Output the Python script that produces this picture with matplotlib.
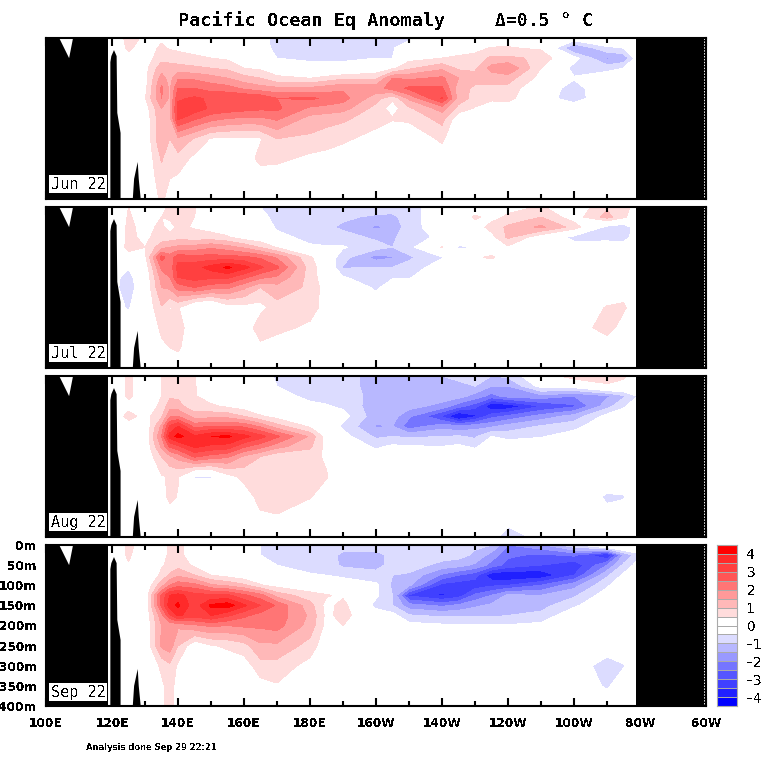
import numpy as np
import matplotlib
matplotlib.use('Agg')
import matplotlib.pyplot as plt
from matplotlib.ticker import MultipleLocator

# grid of the anomaly fields, one inner list per longitude
lons = [120, 125, 130, 135, 137.5, 140, 145, 150, 155, 160, 165, 170, 180, 185, 190,
        200, 205, 210, 220, 225, 230, 235, 240, 250, 260, 270, 275, 280]
depths = [0, 25, 50, 75, 100, 125, 150, 175, 200, 250, 300, 350, 400]

jun_22 = [
    [0, 0, 0, 0, 0, 0, 0, 0, 0, 0, 0, 0, 0],
    [.7, .6, .3, .1, .1, .1, 0, 0, 0, 0, 0, 0, 0],
    [.4, .2, .2, .3, .3, .3, .45, .2, .1, 0, 0, 0, 0],
    [.4, .6, .8, 1.3, 1.7, 2.1, 2.0, 1.5, 1.4, 1.5, 1.05, .8, .6],
    [.3, .45, .8, 1.2, 1.3, 1.4, 1.4, 1.4, 1.3, 1.0, .7, .5, .3],
    [.2, .4, .7, 1.2, 1.9, 2.5, 2.9, 3.2, 3.1, 1.4, .8, .4, .2],
    [.2, .3, .6, 1.1, 1.9, 2.5, 3.1, 3.3, 2.6, .95, .35, .1, 0],
    [.1, .2, .5, 1.0, 1.7, 2.3, 2.9, 2.9, 2.2, .45, .1, 0, 0],
    [0, .1, .4, .9, 1.5, 2.2, 3.0, 2.8, 2.0, .4, .1, 0, 0],
    [0, 0, .2, .5, 1.2, 1.9, 3.0, 2.7, 1.9, .4, .1, 0, 0],
    [-.3, -.2, .1, .4, 1.0, 1.7, 2.9, 2.6, 1.9, .45, .7, .1, 0],
    [-.7, -.7, -.5, .2, .6, 1.6, 2.5, 2.6, 2.1, 1.0, .65, .1, 0],
    [-.7, -.7, -.6, -.3, .5, 1.6, 2.6, 1.9, 1.3, .9, .35, 0, 0],
    [-.7, -.7, -.6, -.3, .7, 1.75, 2.4, 1.8, 1.2, .75, .3, 0, 0],
    [-.7, -.7, -.6, -.3, .9, 1.9, 2.2, 1.7, 1.1, .6, .2, 0, 0],
    [-.6, -.6, -.5, .1, .9, 1.8, 1.2, .8, .7, .3, 0, 0, 0],
    [-.5, -.55, -.5, .4, 2.0, 2.2, .6, .25, .55, .1, 0, 0, 0],
    [-.6, -.2, .3, .9, 1.9, 2.6, 1.6, .9, .6, .1, 0, 0, 0],
    [0, .1, .5, 1.4, 2.1, 2.6, 3.05, 1.7, 1.2, .6, .2, 0, 0],
    [0, .2, .6, .9, 1.5, 1.2, 1.3, .8, .1, 0, 0, 0, 0],
    [0, .3, .7, .9, 1.2, .9, .8, .45, .1, 0, 0, 0, 0],
    [0, .55, 1.1, 1.7, 1.2, .9, .6, .2, 0, 0, 0, 0, 0],
    [.2, .55, 1.1, 2.0, 1.2, .85, .7, .1, 0, 0, 0, 0, 0],
    [0, .4, .9, .5, .3, -.1, -.2, 0, 0, 0, 0, 0, 0],
    [-.1, -1.6, -.3, -.7, -.45, -.75, -.8, -.1, 0, 0, 0, 0, 0],
    [0, -.6, -1.6, -.7, -.1, 0, 0, 0, 0, 0, 0, 0, 0],
    [0, -.5, -1.4, -.5, 0, 0, 0, 0, 0, 0, 0, 0, 0],
    [0, 0, 0, 0, 0, 0, 0, 0, 0, 0, 0, 0, 0],
]

jul_22 = [
    [0, 0, 0, 0, 0, 0, -.2, -.3, -.3, -.3, 0, 0, 0],
    [.5, .55, .6, .6, .65, .3, -.45, -.7, -.8, -.55, -.2, 0, 0],
    [.2, .3, .35, .4, .5, .35, .1, 0, 0, 0, 0, 0, 0],
    [.3, .5, .6, .7, 1.3, 2.7, 2.1, 1.7, 1.5, .95, .6, .4, .1],
    [.6, .6, .3, .7, 1.5, 2.2, 2.1, 2.0, 1.6, .45, .8, .5, .1],
    [.6, .6, .6, .8, 1.6, 2.8, 3.2, 3.0, 2.2, .55, .8, .6, .1],
    [.55, .5, .45, .7, 1.7, 2.7, 3.3, 3.2, 2.5, -.3, 0, 0, 0],
    [0, .1, .3, .7, 1.9, 2.7, 3.7, 3.1, 2.2, -.5, 0, 0, 0],
    [0, 0, .2, .55, 1.7, 2.7, 4.1, 3.1, 2.1, .2, 0, 0, 0],
    [0, 0, .1, .2, 1.4, 2.6, 3.7, 2.6, 1.6, .3, 0, 0, 0],
    [-.5, -.3, 0, .1, .95, 2.4, 3.1, 2.1, 1.0, .3, .9, .3, 0],
    [-.7, -.7, -.6, -.3, .45, 1.9, 2.6, 1.9, 1.3, .8, .7, .1, 0],
    [-.8, -.9, -.7, -.7, -.4, .6, .75, .8, .9, .8, .35, 0, 0],
    [-.75, -.9, -.9, -.75, -.45, -.1, .1, .1, .2, .2, .1, 0, 0],
    [-.7, -.9, -1.1, -.8, -.45, -.8, -1.05, -.45, 0, 0, 0, 0, 0],
    [-.7, -1.1, -1.6, -1.1, -.8, -1.7, -1.0, -.8, -.6, -.1, 0, 0, 0],
    [-.8, -1.1, -1.4, -1.1, -1.0, -1.55, -1.0, -.55, -.2, 0, 0, 0, 0],
    [-.8, -.8, -.7, -.7, -.7, -1.1, -.8, -.55, -.2, 0, 0, 0, 0],
    [0, 0, -.2, -.4, .55, -.55, -.2, 0, 0, 0, 0, 0, 0],
    [0, 0, 0, 0, -.6, .1, -.55, 0, 0, 0, 0, 0, 0],
    [.1, .6, .2, 0, -.5, .4, .1, -.1, 0, 0, 0, 0, 0],
    [0, .3, .7, .3, 0, .6, 0, 0, 0, 0, 0, 0, 0],
    [.3, .6, 1.1, 1.1, .4, .1, 0, 0, 0, 0, 0, 0, 0],
    [.55, 1.0, 1.6, .1, .5, 0, 0, 0, 0, 0, 0, 0, 0],
    [.1, .2, .8, -.7, -.2, 0, 0, 0, 0, 0, .1, 0, 0],
    [.9, 1.2, -.7, -.8, 0, 0, 0, 0, 0, .55, .8, 0, 0],
    [.7, .6, -.9, -.8, -.1, 0, 0, 0, .2, .6, .2, 0, 0],
    [.2, 0, 0, 0, 0, 0, 0, 0, 0, 0, 0, 0, 0],
]

aug_22 = [
    [0, 0, 0, 0, 0, 0, 0, 0, 0, 0, 0, 0, 0],
    [.6, .6, .6, .3, .7, .2, 0, 0, 0, 0, 0, 0, 0],
    [.2, .2, .2, .2, .3, 0, 0, 0, 0, 0, 0, 0, 0],
    [.5, .5, .5, .6, .9, 1.6, 2.0, 1.6, 1.0, .45, .2, 0, 0],
    [.6, .6, .9, 1.3, 1.9, 3.1, 3.7, 2.6, 1.4, .55, .7, .1, 0],
    [.6, .7, .9, 1.2, 2.0, 3.5, 4.2, 2.9, 1.7, .55, .45, .1, 0],
    [.55, .55, .55, .6, 1.3, 2.3, 3.6, 3.6, 2.6, -.55, 0, 0, 0],
    [0, 0, .2, .6, 1.3, 2.5, 4.0, 3.4, 2.3, -.55, 0, 0, 0],
    [0, 0, .1, .4, 1.3, 2.5, 4.1, 3.3, 2.1, .3, 0, 0, 0],
    [0, 0, .1, .2, 1.0, 2.4, 3.7, 2.6, 1.4, .65, .2, 0, 0],
    [-.2, 0, 0, .1, .55, 1.9, 3.2, 2.2, 1.0, .8, .7, .4, 0],
    [-.6, -.5, -.2, 0, .3, 1.2, 2.6, 1.7, .6, .7, .8, .45, 0],
    [-.8, -.8, -.7, -.3, 0, .4, 1.4, 1.1, .7, .7, .55, 0, 0],
    [-.8, -.8, -.7, -.45, -.15, -.1, .2, .3, .4, .55, .1, 0, 0],
    [-.8, -.8, -.7, -.6, -.3, -.6, -.3, 0, 0, 0, 0, 0, 0],
    [-1.2, -1.2, -1.2, -1.3, -1.3, -1.55, -1.1, -.6, -.2, 0, 0, 0, 0],
    [-1.2, -1.2, -1.2, -1.2, -1.3, -1.5, -1.0, -.4, -.1, 0, 0, 0, 0],
    [-1.2, -1.2, -1.2, -1.3, -1.9, -2.3, -1.1, -.45, 0, 0, 0, 0, 0],
    [-1.0, -1.1, -1.2, -1.7, -3.1, -1.7, -1.0, -.5, -.1, 0, 0, 0, 0],
    [-.9, -1.1, -1.3, -2.3, -4.2, -1.9, -.95, -.4, -.1, 0, 0, 0, 0],
    [-.6, -1.0, -1.7, -2.8, -3.6, -1.7, -1.1, -.6, -.1, 0, 0, 0, 0],
    [-1.0, -1.5, -2.2, -4.0, -2.7, -1.6, -.5, -.1, 0, 0, 0, 0, -.1],
    [-.9, -1.5, -1.8, -3.9, -2.4, -1.3, -.7, -.1, 0, 0, 0, 0, -1.0],
    [.1, -.3, -1.7, -3.0, -1.8, -.95, -.55, -.1, 0, 0, 0, 0, -.2],
    [.8, -.2, -2.0, -2.6, -1.3, -.7, -.2, 0, 0, 0, 0, 0, 0],
    [.8, .4, -1.6, -1.2, -.3, 0, 0, 0, 0, 0, -.6, -.3, 0],
    [.6, .3, -1.1, -.6, -.1, 0, 0, 0, 0, 0, -.55, -.2, 0],
    [.1, 0, -.4, 0, 0, 0, 0, 0, 0, 0, 0, 0, 0],
]

sep_22 = [
    [0, 0, 0, 0, 0, 0, 0, 0, 0, 0, 0, 0, 0],
    [.6, .6, .45, 0, 0, 0, 0, 0, 0, 0, 0, 0, 0],
    [.3, 0, 0, 0, 0, 0, 0, 0, 0, 0, 0, 0, 0],
    [.2, .3, .45, .6, 1.3, 2.6, 2.6, 1.8, 1.5, 1.6, .6, .4, .4],
    [.6, .6, .6, 1.1, 2.0, 3.5, 3.8, 2.9, 1.6, 1.8, .9, .7, .7],
    [.6, .6, .8, 1.4, 2.3, 3.7, 4.1, 3.6, 1.6, 1.0, .4, .3, .3],
    [.3, .3, .4, 1.0, 2.2, 3.2, 3.2, 3.2, 1.9, .1, 0, 0, 0],
    [0, 0, .1, .5, 1.6, 3.1, 4.1, 3.5, 2.1, .45, 0, 0, 0],
    [0, 0, 0, .3, 1.4, 3.1, 4.3, 3.1, 2.0, .6, .1, 0, 0],
    [0, 0, 0, .1, 1.1, 2.6, 3.6, 2.6, 2.1, .8, .2, 0, 0],
    [-.5, -.5, -.2, 0, .55, 2.2, 3.0, 2.3, 2.1, 1.4, .8, .3, 0],
    [-.6, -.6, -.5, -.2, .3, 1.3, 2.4, 2.3, 2.2, 1.4, .8, .45, 0],
    [-.7, -.7, -.7, -.45, .1, .7, 1.2, 1.4, 1.3, .8, .3, 0, 0],
    [-.75, -.8, -.75, -.5, -.05, .55, .3, .35, .3, .1, 0, 0, 0],
    [-.8, -1.1, -1.1, -.6, -.2, .4, .7, .7, .5, 0, 0, 0, 0],
    [-.7, -1.2, -1.2, -.8, -.4, -.4, -.7, -.1, 0, 0, 0, 0, 0],
    [-.7, -.8, -.8, -1.0, -1.1, -1.0, -1.0, -.3, 0, 0, 0, 0, 0],
    [-.7, -.7, -.7, -1.1, -1.4, -3.1, -1.8, -.95, -.3, 0, 0, 0, 0],
    [-.7, -.7, -1.2, -2.1, -3.2, -3.6, -2.1, -1.1, -.4, 0, 0, 0, 0],
    [-.8, -.8, -1.3, -2.5, -3.3, -3.3, -1.9, -1.1, -.45, 0, 0, 0, 0],
    [-.9, -1.1, -1.6, -2.8, -3.3, -2.4, -1.6, -1.1, -.4, 0, 0, 0, 0],
    [-1.0, -1.7, -2.2, -3.9, -3.1, -2.0, -1.4, -1.1, -.45, 0, 0, 0, 0],
    [-2.0, -2.4, -2.7, -4.0, -3.0, -1.4, -1.3, -1.0, -.45, 0, 0, 0, 0],
    [-1.6, -2.6, -3.0, -3.9, -2.5, -1.5, -1.2, -.85, -.35, 0, 0, 0, 0],
    [-.6, -2.4, -3.4, -3.0, -1.7, -1.1, -.6, -.1, 0, 0, 0, 0, 0],
    [.6, -3.6, -2.0, -1.1, -.6, -.2, 0, 0, 0, 0, -.9, -.6, 0],
    [.6, -1.5, -.9, -.4, 0, 0, 0, 0, 0, 0, -.55, -.1, 0],
    [.2, -.6, -.2, 0, 0, 0, 0, 0, 0, 0, 0, 0, 0],
]

month_labels = ['Jun 22', 'Jul 22', 'Aug 22', 'Sep 22']
levels = [-4, -3.5, -3, -2.5, -2, -1.5, -1, -.5, 0, .5, 1, 1.5, 2, 2.5, 3, 3.5, 4]
level_colors = ['#0000ff', '#2020ff', '#4040ff', '#5555ff', '#7575ff', '#9999ff',
                '#b8b8ff', '#dcdcff', '#ffffff', '#ffffff', '#ffdcdc', '#ffb8b8',
                '#ff9999', '#ff7575', '#ff5555', '#ff4040', '#ff2a2a', '#ff0000']
cbar_ticks = [-4, -3, -2, -1, 0, 1, 2, 3, 4]
cbar_labels = ['\u20134', '\u20133', '\u20132', '\u20131', '0', '1', '2', '3', '4']

lon_ticks = [100, 120, 140, 160, 180, 200, 220, 240, 260, 280, 300]
lon_labels = ['100E', '120E', '140E', '160E', '180E', '160W', '140W', '120W', '100W', '80W', '60W']
depth_ticks = [0, 50, 100, 150, 200, 250, 300, 350, 400]
depth_labels = ['0m', '50m', '100m', '150m', '200m', '250m', '300m', '350m', '400m']

# land outlines (lon, depth)
land_west_lon = [100, 100, 118.8, 118.8]
land_west_depth = [400, 0, 0, 400]
notch_lon = [104, 107, 108.2]
notch_depth = [0, 50, 0]
ridge_lon = [119.5, 119.5, 119.8, 120.6, 121.4, 121.6, 122.6, 122.6]
ridge_depth = [400, 60, 45, 30, 45, 186, 236, 400]
islet_lon = [126.3, 126.7, 127.8, 128.1, 128.7]
islet_depth = [400, 350, 308, 350, 400]
land_east_lon = [278.7, 300, 300, 278.7]
land_east_depth = [0, 0, 400, 400]

plt.rcParams['text.antialiased'] = False
plt.rcParams['font.family'] = 'DejaVu Sans'

W, H = 768, 768
fig = plt.figure(figsize=(W / 100, H / 100), dpi=100)


def add_axes_px(x0, y0, x1, y1):
    # y counted from the top of the picture
    return fig.add_axes([x0 / W, 1 - y1 / H, (x1 - x0) / W, (y1 - y0) / H])


panel_tops = [38, 207, 376, 545]
panels = [jun_22, jul_22, aug_22, sep_22]

for i, (top, field) in enumerate(zip(panel_tops, panels)):
    ax = add_axes_px(46, top, 706, top + 161)
    z = np.array(field).T
    ax.contourf(lons, depths, z, levels=levels, colors=level_colors, extend='both', antialiased=False)

    ax.fill(land_west_lon, land_west_depth, color='black', lw=0, zorder=3)
    ax.fill(notch_lon, notch_depth, color='white', lw=0, zorder=3.1)
    ax.fill(ridge_lon, ridge_depth, color='black', lw=0, zorder=3)
    ax.fill(islet_lon, islet_depth, color='black', lw=0, zorder=3)
    ax.fill(land_east_lon, land_east_depth, color='black', lw=0, zorder=3)
    ax.plot([299.3, 299.3], [0, 400], color='white', lw=0.7, ls=(0, (1.5, 1.5)), zorder=3.2)

    ax.set_xlim(100, 300)
    ax.set_ylim(400, 0)
    ax.set_xticks(lon_ticks)
    ax.xaxis.set_minor_locator(MultipleLocator(10))
    ax.tick_params(axis='x', which='major', direction='in', top=True, bottom=True,
                   length=6, width=1.5, pad=8, labelsize=8.7)
    ax.tick_params(axis='x', which='minor', direction='in', top=True, bottom=True,
                   length=3.6, width=1.5)
    ax.set_yticks(depth_ticks)
    ax.tick_params(axis='y', length=0, pad=6.5, labelsize=8.7)
    if i == 3:
        ax.set_xticklabels(lon_labels, fontweight='bold')
        ax.set_yticklabels(depth_labels, fontweight='bold')
    else:
        ax.set_xticklabels([])
        ax.set_yticklabels([])
    for spine in ax.spines.values():
        spine.set_linewidth(1.5)
        spine.set_zorder(4)

    ax.text(0.0485, 0.086 if i == 3 else 0.092, month_labels[i], transform=ax.transAxes,
            ha='center', va='center', family='DejaVu Sans Mono', fontsize=11, color='black',
            zorder=5, bbox=dict(facecolor='white', edgecolor='none', pad=1.2))

# colour key
cax = add_axes_px(717, 545, 737, 706)
key_edges = [-4.5] + levels + [4.5]
cax.pcolormesh([0, 1], key_edges, np.arange(18).reshape(-1, 1),
               cmap=matplotlib.colors.ListedColormap(level_colors),
               edgecolors='#aaaaaa', linewidth=0.7)
cax.set_xticks([])
cax.set_ylim(-4.5, 4.5)
cax.yaxis.tick_right()
cax.set_yticks(cbar_ticks)
cax.set_yticklabels(cbar_labels, fontsize=10)
cax.tick_params(axis='y', length=0, pad=7)
for spine in cax.spines.values():
    spine.set_color('#aaaaaa')
    spine.set_linewidth(0.8)

fig.text(178 / W, 1 - 21 / H, 'Pacific Ocean Eq Anomaly', ha='left', va='center',
         family='DejaVu Sans Mono', fontweight='bold', fontsize=13.3)
fig.text(495 / W, 1 - 21 / H, '\u0394=0.5 \u00b0 C', ha='left', va='center',
         family='DejaVu Sans Mono', fontweight='bold', fontsize=13)
fig.text(86 / W, 1 - 748 / H, 'Analysis done Sep 29 22:21', ha='left', va='center',
         fontweight='bold', fontsize=6)

fig.savefig('out.png', dpi=100)
